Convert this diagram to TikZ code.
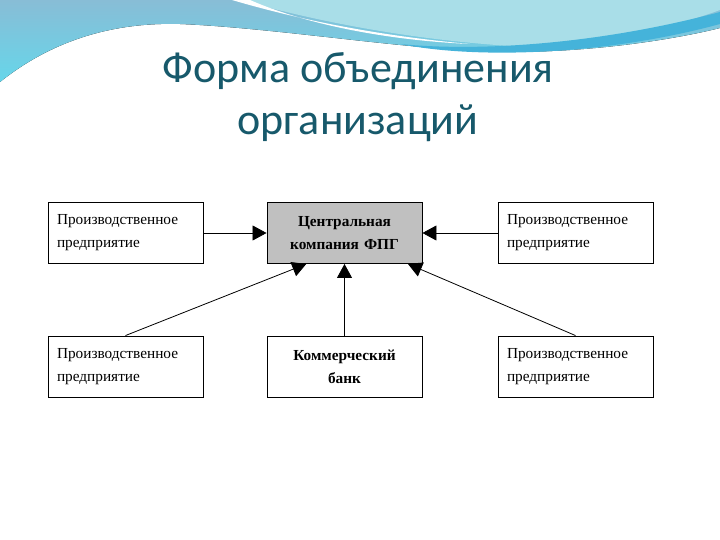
\documentclass[tikz,border=0pt]{standalone}
\usepackage{fontspec}
\setmainfont{Liberation Serif}
\newfontfamily\titlefont{Carlito}
\usetikzlibrary{arrows.meta}

\definecolor{titleteal}{HTML}{17596B}
\definecolor{waveA}{HTML}{88BDD6}
\definecolor{waveB}{HTML}{66D6EA}
\definecolor{waveC}{HTML}{A9DEE8}
\definecolor{waveD}{HTML}{45B3DA}
\definecolor{fpggray}{HTML}{C0C0C0}

\begin{document}
\begin{tikzpicture}[x=1pt, y=-1pt,
  unit/.style={draw, line width=0.9pt, minimum width=155, minimum height=61,
    text width=137, align=left, font=\fontsize{15.3}{23}\selectfont},
  core/.style={unit, align=center, font=\fontsize{15.3}{23}\selectfont\bfseries},
  link/.style={line width=0.8pt, -{Triangle[length=14pt,width=15pt]}}]
\useasboundingbox (0,0) rectangle (720,540);
\fill[white] (0,0) rectangle (720,540);

% wave at the top
\fill[top color=waveA, bottom color=waveB] (0,0) -- (0,82)
  .. controls (50,42) and (110,22) .. (180,24)
  .. controls (280,28) and (420,52) .. (510,52)
  .. controls (600,52) and (680,38) .. (720,28) -- (720,0) -- cycle;
\fill[waveC] (240,0) .. controls (330,25) and (420,40) .. (510,46)
  .. controls (600,45) and (680,25) .. (720,10) -- (720,0) -- cycle;
\fill[waveD] (400,44) .. controls (480,52) and (600,44) .. (720,12)
  -- (720,24) .. controls (610,54) and (480,60) .. (400,44) -- cycle;
\fill[white] (232,0) .. controls (300,20) and (380,36) .. (470,44)
  .. controls (380,40) and (300,22) .. (250,0) -- cycle;

% title
\node[font=\titlefont\fontsize{44}{52}\selectfont, text=titleteal, align=center] (title) at (358,97)
  {Форма объединения\\организаций};

\node[core, fill=fpggray] (fpg) at (344.5,233) {Центральная\\компания ФПГ};
\node[unit] (tl) at (125.5,233) {Производственное\\предприятие};
\node[unit] (tr) at (575.5,233) {Производственное\\предприятие};
\node[unit] (bl) at (125.5,366.5) {Производственное\\предприятие};
\node[core] (bank) at (344.5,366.5) {Коммерческий\\банк};
\node[unit] (br) at (575.5,366.5) {Производственное\\предприятие};

\draw[link] (tl) -- (fpg);
\draw[link] (tr) -- (fpg);
\draw[link] (bl.north) -- (fpg.219);
\draw[link] (bank) -- (fpg);
\draw[link] (br.north) -- (fpg.334);
\end{tikzpicture}
\end{document}
